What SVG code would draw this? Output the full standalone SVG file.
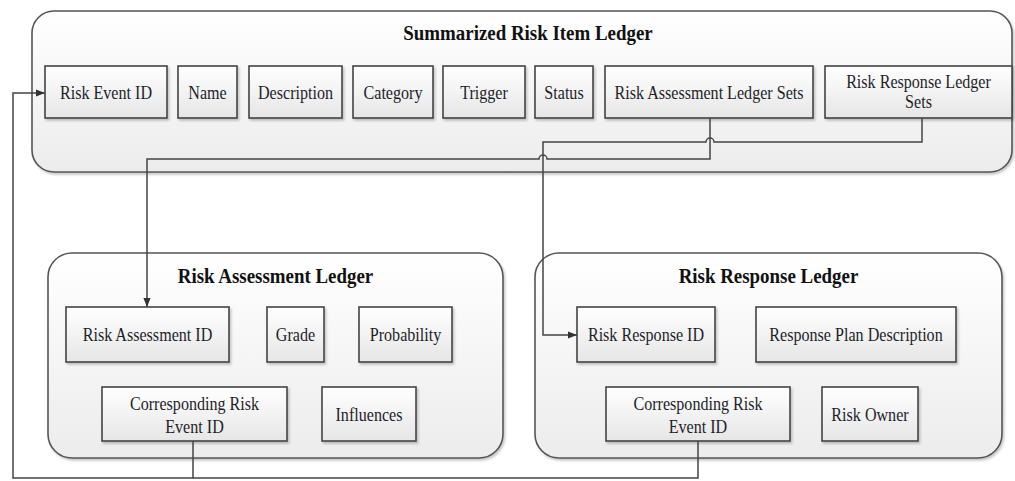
<svg xmlns="http://www.w3.org/2000/svg" width="1015" height="481" viewBox="0 0 1015 481">
<defs>
<linearGradient id="gBox" x1="0" y1="0" x2="0" y2="1"><stop offset="0" stop-color="#ffffff"/><stop offset="1" stop-color="#e6e6e6"/></linearGradient>
<linearGradient id="gCont" x1="0" y1="0" x2="0" y2="1"><stop offset="0" stop-color="#ffffff"/><stop offset="1" stop-color="#ececec"/></linearGradient>
<filter id="sh" x="-10%" y="-10%" width="130%" height="140%"><feDropShadow dx="1.5" dy="2" stdDeviation="1.2" flood-color="#000" flood-opacity="0.22"/></filter>
<marker id="arr" viewBox="0 0 10 10" refX="10" refY="5" markerWidth="9" markerHeight="9" markerUnits="userSpaceOnUse" orient="auto"><path d="M0,1 L10,5 L0,9 Z" fill="#333"/></marker>
<style>
.cont{fill:url(#gCont);stroke:#555;stroke-width:1.6;filter:url(#sh)}
.box{fill:url(#gBox);stroke:#444;stroke-width:1.6;filter:url(#sh)}
.t{font-family:"Liberation Serif","Times New Roman",serif;font-size:18.5px;fill:#1e1e2a;text-anchor:middle;transform-box:fill-box;transform-origin:center;transform:scaleX(0.87)}
.h{font-family:"Liberation Serif","Times New Roman",serif;font-size:22px;font-weight:bold;fill:#111;text-anchor:middle;transform-box:fill-box;transform-origin:center;transform:scaleX(0.86)}
.ln{fill:none;stroke:#444;stroke-width:1.5}
</style>
</defs>
<g id="summarized-ledger">
<rect class="cont" x="32" y="11" width="980" height="161" rx="22"/>
<text class="h" x="528" y="40">Summarized Risk Item Ledger</text>
</g>
<g id="risk-event-id"><rect class="box" x="45" y="66" width="122" height="52"/><text class="t" x="106" y="99">Risk Event ID</text></g>
<g id="name"><rect class="box" x="178" y="66" width="59" height="52"/><text class="t" x="207.5" y="99">Name</text></g>
<g id="description"><rect class="box" x="249" y="66" width="93" height="52"/><text class="t" x="295.5" y="99">Description</text></g>
<g id="category"><rect class="box" x="353" y="66" width="80" height="52"/><text class="t" x="393" y="99">Category</text></g>
<g id="trigger"><rect class="box" x="443" y="66" width="82" height="52"/><text class="t" x="484" y="99">Trigger</text></g>
<g id="status"><rect class="box" x="535" y="66" width="58" height="52"/><text class="t" x="564" y="99">Status</text></g>
<g id="risk-assessment-ledger-sets"><rect class="box" x="605" y="66" width="208" height="52"/><text class="t" x="709" y="99">Risk Assessment Ledger Sets</text></g>
<g id="risk-response-ledger-sets"><rect class="box" x="825" y="66" width="187" height="52"/><text class="t" x="918.5" y="88">Risk Response Ledger</text><text class="t" x="918.5" y="108">Sets</text></g>

<g id="risk-assessment-ledger">
<rect class="cont" x="48" y="253" width="455" height="205" rx="24"/>
<text class="h" x="275.5" y="283">Risk Assessment Ledger</text>
</g>
<g id="risk-assessment-id"><rect class="box" x="66" y="307" width="163" height="55"/><text class="t" x="147.5" y="341">Risk Assessment ID</text></g>
<g id="grade"><rect class="box" x="267" y="307" width="57" height="55"/><text class="t" x="295.5" y="341">Grade</text></g>
<g id="probability"><rect class="box" x="359" y="307" width="93" height="55"/><text class="t" x="405.5" y="341">Probability</text></g>
<g id="ra-corresponding"><rect class="box" x="102" y="387" width="185" height="54"/><text class="t" x="194.5" y="410">Corresponding Risk</text><text class="t" x="194.5" y="433">Event ID</text></g>
<g id="influences"><rect class="box" x="322" y="387" width="94" height="54"/><text class="t" x="369" y="421">Influences</text></g>

<g id="risk-response-ledger">
<rect class="cont" x="535" y="253" width="467" height="205" rx="24"/>
<text class="h" x="768.5" y="283">Risk Response Ledger</text>
</g>
<g id="risk-response-id"><rect class="box" x="577" y="307" width="138" height="55"/><text class="t" x="646" y="341">Risk Response ID</text></g>
<g id="response-plan"><rect class="box" x="756" y="307" width="200" height="55"/><text class="t" x="856" y="341">Response Plan Description</text></g>
<g id="rr-corresponding"><rect class="box" x="606" y="387" width="184" height="54"/><text class="t" x="698" y="410">Corresponding Risk</text><text class="t" x="698" y="433">Event ID</text></g>
<g id="risk-owner"><rect class="box" x="822" y="387" width="96" height="54"/><text class="t" x="870" y="421">Risk Owner</text></g>

<g id="connectors">
<path class="ln" d="M710,118 V159 H547 A4,4 0 0 0 539,159 H147 V307" marker-end="url(#arr)"/>
<path class="ln" d="M922,118 V142 H714 A4,4 0 0 0 706,142 H543 V335 H577" marker-end="url(#arr)"/>
<path class="ln" d="M193,441 V478 H13 V93 H45" marker-end="url(#arr)"/>
<path class="ln" d="M698,441 V478 H193"/>
</g>
</svg>
